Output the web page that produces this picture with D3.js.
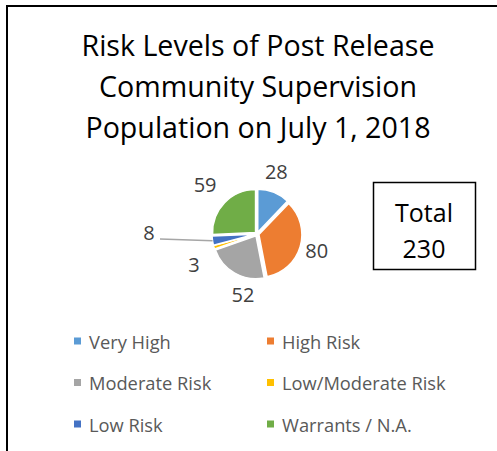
<!DOCTYPE html>
<html>
<head>
<meta charset="utf-8">
<script src="https://cdn.jsdelivr.net/npm/d3@7"></script>
<style>
  html, body { margin: 0; padding: 0; background: #fff; }
  svg { display: block; }
  text { font-family: "Open Sans", "Noto Sans", sans-serif; }
</style>
</head>
<body>
<svg id="chart" width="497" height="451"></svg>
<script>
// Risk levels of the post-release community supervision population
const categories = ["Very High", "High Risk", "Moderate Risk", "Low/Moderate Risk", "Low Risk", "Warrants / N.A."];
const counts = [28, 80, 52, 3, 8, 59];
const colors = ["#5B9BD5", "#ED7D31", "#A5A5A5", "#FFC000", "#4472C4", "#70AD47"];
const titleLines = ["Risk Levels of Post Release", "Community Supervision", "Population on July 1, 2018"];

const W = 497, H = 451;
const svg = d3.select("#chart");

// chart frame (top and left edges)
svg.append("path")
  .attr("d", `M7,${H} L7,6 L${W},6`)
  .attr("fill", "none")
  .attr("stroke", "#000")
  .attr("stroke-width", 2);

// title
svg.append("g").selectAll("text")
  .data(titleLines)
  .join("text")
  .attr("x", 258)
  .attr("y", (d, i) => 56 + i * 41)
  .attr("text-anchor", "middle")
  .attr("font-size", 28.6)
  .attr("fill", "#000")
  .text(d => d);

// pie
const cx = 257, cy = 234, r = 43, explode = 2;
const pie = d3.pie().sort(null).value(d => d)(counts);
const arc = d3.arc().innerRadius(0).outerRadius(r);

const g = svg.append("g").attr("transform", `translate(${cx},${cy})`);
const mid = d => (d.startAngle + d.endAngle) / 2;

g.selectAll("path")
  .data(pie)
  .join("path")
  .attr("transform", d => `translate(${Math.sin(mid(d)) * explode},${-Math.cos(mid(d)) * explode})`)
  .attr("d", arc)
  .attr("fill", (d, i) => colors[i])
  .attr("stroke", "#fff")
  .attr("stroke-width", 1.5);

// data labels: radius and angular nudge (radians) for each slice label
const labelLayout = [
  { rad: 65, turn: -0.08 },
  { rad: 62, turn: -0.02 },
  { rad: 62, turn: -0.29 },
  { rad: 70, turn: -0.15 },
  { rad: 108, turn: 0.16 },
  { rad: 72, turn: 0 }
];
const pulled = 4; // index of the label with a leader line

g.selectAll("text.val")
  .data(pie)
  .join("text")
  .attr("class", "val")
  .attr("x", (d, i) => Math.sin(mid(d) + labelLayout[i].turn) * labelLayout[i].rad)
  .attr("y", (d, i) => -Math.cos(mid(d) + labelLayout[i].turn) * labelLayout[i].rad)
  .attr("text-anchor", "middle")
  .attr("dominant-baseline", "central")
  .attr("font-size", 20)
  .attr("fill", "#404040")
  .text(d => d.data);

// leader line for the pulled-out label
{
  const d = pie[pulled];
  const a = mid(d);
  const ro = r + explode;
  const lx = Math.sin(a + labelLayout[pulled].turn) * labelLayout[pulled].rad;
  const ly = -Math.cos(a + labelLayout[pulled].turn) * labelLayout[pulled].rad;
  g.append("line")
    .attr("x1", Math.sin(a) * ro)
    .attr("y1", -Math.cos(a) * ro)
    .attr("x2", lx + 11)
    .attr("y2", ly + 6)
    .attr("stroke", "#A6A6A6")
    .attr("stroke-width", 1.5);
}

// total box
const total = d3.sum(counts);
svg.append("rect")
  .attr("x", 373.5).attr("y", 182.5)
  .attr("width", 102).attr("height", 87)
  .attr("fill", "#fff")
  .attr("stroke", "#000")
  .attr("stroke-width", 1.5);
svg.append("text")
  .attr("x", 424).attr("y", 212)
  .attr("text-anchor", "middle").attr("dominant-baseline", "central")
  .attr("font-size", 25).attr("fill", "#000")
  .text("Total");
svg.append("text")
  .attr("x", 424).attr("y", 248)
  .attr("text-anchor", "middle").attr("dominant-baseline", "central")
  .attr("font-size", 25).attr("fill", "#000")
  .text(total);

// legend: two columns, three rows
const legend = svg.append("g");
const item = legend.selectAll("g")
  .data(categories)
  .join("g")
  .attr("transform", (d, i) => `translate(${i % 2 === 0 ? 74 : 267},${341 + Math.floor(i / 2) * 41.5})`);
item.append("rect")
  .attr("x", 0).attr("y", -3.5)
  .attr("width", 7).attr("height", 7)
  .attr("fill", (d, i) => colors[i]);
item.append("text")
  .attr("x", 15).attr("y", 0)
  .attr("dominant-baseline", "central")
  .attr("font-size", 18.3)
  .attr("fill", "#595959")
  .text(d => d);
</script>
</body>
</html>
